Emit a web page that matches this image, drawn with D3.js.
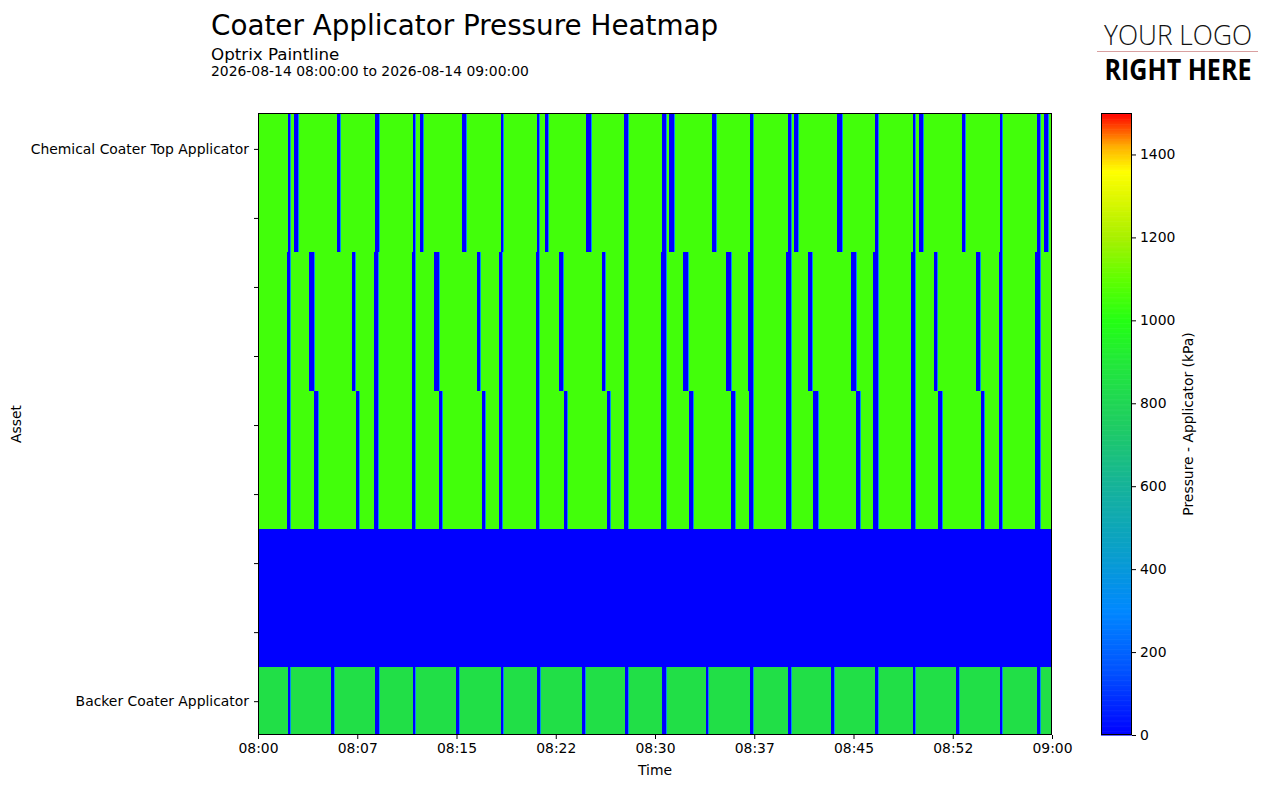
<!DOCTYPE html>
<html><head><meta charset="utf-8">
<script src="https://cdn.jsdelivr.net/npm/d3@7"></script>
<style>
body{margin:0;background:#fff;}
svg{display:block;font-family:"DejaVu Sans",sans-serif;}
</style></head>
<body><svg id="chart" width="1274" height="788"></svg>
<script>
// ---------- DATA ----------
const title = "Coater Applicator Pressure Heatmap";
const subtitle = "Optrix Paintline";
const dateRange = "2026-08-14 08:00:00 to 2026-08-14 09:00:00";
const yTickLabels = ["Chemical Coater Top Applicator","","","","","","","","Backer Coater Applicator"];
const xTickMinutes = [0, 7.5, 15, 22.5, 30, 37.5, 45, 52.5, 60];
const colorTicks = [0, 200, 400, 600, 800, 1000, 1200, 1400];
const rowBaseValues = [1050, 1050, 1050, 0, 850];   // kPa, steady pressure of each row
const dipValue = 0;                                  // pressure during a dip
const edgeValue = 330;                               // partial sample at dip edge
// dips in minutes after 08:00 [start, end]
const dipsRow1 = [[2.27,2.42],[2.72,3.02],[5.97,6.20],[8.84,9.14],[11.71,11.86],[12.24,12.47],[15.42,15.72],[18.36,18.51],[21.08,21.23],[21.69,21.91],[24.79,25.16],[27.66,27.96],[30.53,30.83],[31.06,31.44],[34.31,34.61],[37.18,37.41],[40.05,40.28],[40.50,40.81],[43.75,44.13],[46.62,46.84],[49.49,49.64],[49.94,50.24],[53.20,53.43],[56.07,56.22],[58.87,59.09],[59.39,59.70]];
const dipsRow2 = [[2.19,2.42],[3.85,4.23],[7.10,7.33],[8.77,9.07],[11.64,11.86],[13.30,13.68],[16.55,16.78],[18.21,18.44],[21.01,21.23],[22.75,23.05],[26.00,26.22],[27.66,27.96],[30.45,30.83],[32.12,32.49],[35.37,35.74],[37.03,37.41],[39.90,40.28],[41.56,41.86],[44.81,45.19],[46.47,46.84],[49.34,49.64],[51.08,51.31],[54.26,54.56],[55.99,56.22],[58.71,59.09]];
const dipsRow3 = [[2.19,2.42],[4.23,4.53],[7.41,7.63],[8.77,9.07],[11.64,11.86],[13.68,13.90],[16.93,17.15],[18.21,18.44],[21.01,21.23],[23.12,23.35],[26.37,26.60],[27.66,27.96],[30.45,30.83],[32.57,32.87],[35.74,36.04],[37.10,37.41],[39.90,40.28],[41.94,42.31],[45.19,45.49],[46.47,46.84],[49.34,49.64],[51.38,51.69],[54.64,54.86],[55.99,56.22],[58.71,59.09]];
const dipsRow4 = [];
const dipsRow5 = [[2.27,2.42],[5.52,5.74],[8.84,9.14],[11.71,11.86],[14.96,15.19],[18.36,18.51],[21.08,21.31],[24.48,24.71],[27.73,27.96],[30.53,30.83],[33.85,34.00],[37.18,37.41],[40.05,40.28],[43.30,43.53],[46.62,46.84],[49.49,49.64],[52.75,52.97],[56.07,56.22],[58.87,59.09]];
const rowDips = [dipsRow1, dipsRow2, dipsRow3, dipsRow4, dipsRow5];
const cmapValues = [0, 150, 300, 450, 600, 750, 900, 1000, 1100, 1200, 1300, 1360, 1420, 1500];
const cmapColors = ["#0000ff","#0050ff","#0088ff","#0aa0c8","#16b39a","#1fcd62","#22e83a","#24ff14","#60ff00","#a8f000","#e0f800","#ffff00","#ffb000","#ff0000"];

// ---------- CHART ----------
const svg = d3.select("#chart");
const M = {left:258, right:1052, top:113, bottom:735};
const t0 = new Date(2026,7,14,8,0,0);
const tm = m => new Date(t0.getTime() + m*60000);
const FS = "13.9px";

const x = d3.scaleTime().domain([tm(0), tm(60)]).range([M.left, M.right]);
const y = d3.scaleLinear().domain([-0.26, 4.245]).range([M.top, M.bottom]);
const color = d3.scaleLinear().domain(cmapValues).range(cmapColors).interpolate(d3.interpolateRgb).clamp(true);

const g = svg.append("g");
svg.append("clipPath").attr("id","clip").append("rect")
  .attr("x",M.left).attr("y",M.top).attr("width",M.right-M.left).attr("height",M.bottom-M.top);
const cells = g.append("g").attr("clip-path","url(#clip)");

rowBaseValues.forEach((v,i)=>{
  const y0 = y(Math.max(i-0.25,-0.26)), y1 = y(Math.min(i+0.75,4.245));
  cells.append("rect").attr("x",x(tm(0))).attr("y",y0).attr("width",x(tm(60))-x(tm(0))-(i===3?1:0)).attr("height",y1-y0)
    .attr("fill",color(v)).attr("shape-rendering","crispEdges");
  rowDips[i].forEach(d=>{
    cells.append("rect").attr("x",x(tm(d[0]))).attr("y",y0)
      .attr("width",x(tm(d[1]+0.08))-x(tm(d[0]))).attr("height",y1-y0)
      .attr("fill",color(edgeValue)).attr("shape-rendering","crispEdges");
    cells.append("rect").attr("x",x(tm(d[0]))).attr("y",y0)
      .attr("width",x(tm(d[1]))-x(tm(d[0]))).attr("height",y1-y0)
      .attr("fill",color(dipValue)).attr("shape-rendering","crispEdges");
  });
});

// frame
g.append("rect").attr("x",M.left+0.5).attr("y",M.top+0.5).attr("width",M.right-M.left-1).attr("height",M.bottom-M.top-1)
  .attr("fill","none").attr("stroke","#000").attr("stroke-width",1);

// x axis
const xAxis = d3.axisBottom(x).tickValues(xTickMinutes.map(tm)).tickFormat(d3.timeFormat("%H:%M")).tickSize(4).tickPadding(4);
const xg = svg.append("g").attr("transform",`translate(0,${M.bottom})`).call(xAxis);
xg.select(".domain").remove();
xg.selectAll("text").attr("font-size",FS).attr("font-family","DejaVu Sans").attr("fill","#000");
xg.selectAll("line").attr("stroke","#000");
svg.append("text").attr("x",(M.left+M.right)/2).attr("y",775).attr("text-anchor","middle")
  .attr("font-size",FS).text("Time");

// y axis
const yAxis = d3.axisLeft(y).tickValues(d3.range(0,4.01,0.5)).tickFormat((d,i)=>yTickLabels[i]).tickSize(4).tickPadding(5);
const yg = svg.append("g").attr("transform",`translate(${M.left},0)`).call(yAxis);
yg.select(".domain").remove();
yg.selectAll("text").attr("font-size",FS).attr("font-family","DejaVu Sans").attr("fill","#000");
yg.selectAll("line").attr("stroke","#000");
svg.append("text").attr("transform",`translate(21,${(M.top+M.bottom)/2}) rotate(-90)`).attr("text-anchor","middle")
  .attr("font-size",FS).text("Asset");

// colorbar
const CB = {x:1101, w:31};
const cy = d3.scaleLinear().domain([0,1500]).range([M.bottom, M.top]);
const cbg = svg.append("g");
const steps = d3.range(0,1500,3);
cbg.selectAll("rect.cb").data(steps).join("rect").attr("class","cb")
  .attr("x",CB.x).attr("width",CB.w).attr("y",d=>cy(d+3)).attr("height",d=>cy(d)-cy(d+3)+0.6)
  .attr("fill",d=>color(d+1.5));
cbg.append("rect").attr("x",CB.x+0.5).attr("y",M.top+0.5).attr("width",CB.w-1).attr("height",M.bottom-M.top-1)
  .attr("fill","none").attr("stroke","#000");
const cAxis = d3.axisRight(cy).tickValues(colorTicks).tickSize(4).tickPadding(4).tickFormat(d3.format("d"));
const cag = svg.append("g").attr("transform",`translate(${CB.x+CB.w},0)`).call(cAxis);
cag.select(".domain").remove();
cag.selectAll("text").attr("font-size",FS).attr("font-family","DejaVu Sans").attr("fill","#000");
cag.selectAll("line").attr("stroke","#000");
svg.append("text").attr("transform",`translate(1193,${(M.top+M.bottom)/2}) rotate(-90)`).attr("text-anchor","middle")
  .attr("font-size",FS).text("Pressure - Applicator (kPa)");

// titles
svg.append("text").attr("x",211).attr("y",35).attr("font-size","27.8px").text(title);
svg.append("text").attr("x",211).attr("y",60).attr("font-size","16.7px").text(subtitle);
svg.append("text").attr("x",211).attr("y",76).attr("font-size",FS).text(dateRange);

// logo
svg.append("text").attr("x",1178).attr("y",45).attr("text-anchor","middle").attr("font-family","Open Sans")
  .attr("font-size","28px").attr("font-weight","300").attr("textLength",148).attr("lengthAdjust","spacingAndGlyphs").attr("fill","#111").text("YOUR LOGO");
svg.append("line").attr("x1",1097).attr("x2",1258).attr("y1",51.5).attr("y2",51.5).attr("stroke","#d9a0a0").attr("stroke-width",1);
svg.append("text").attr("x",1178).attr("y",80).attr("text-anchor","middle").attr("font-family","Open Sans")
  .attr("font-size","28px").attr("font-weight","700").attr("textLength",147).attr("lengthAdjust","spacingAndGlyphs").attr("fill","#000").text("RIGHT HERE");
</script></body></html>
